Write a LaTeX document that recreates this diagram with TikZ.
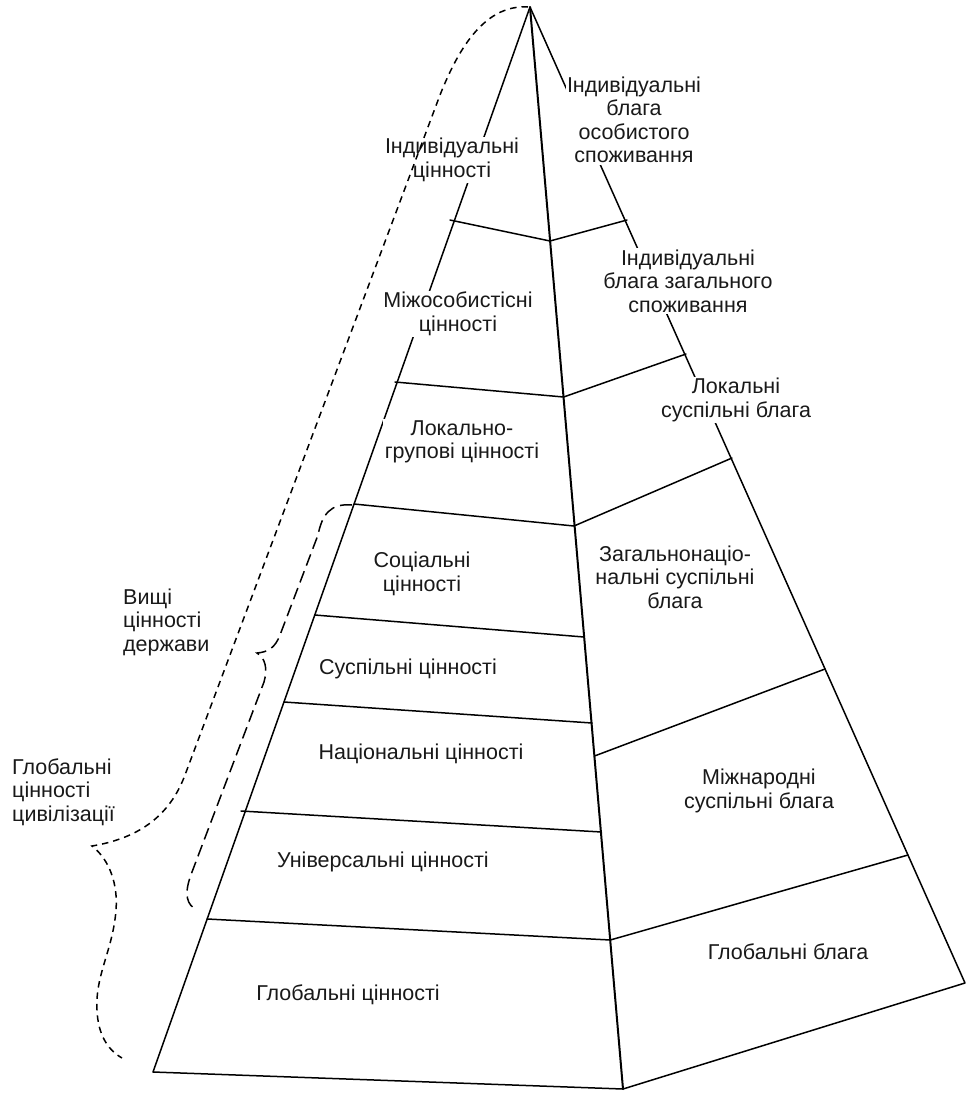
\documentclass[tikz,border=0pt]{standalone}
\usepackage{fontspec}
\setmainfont{Liberation Sans}
\begin{document}
\begin{tikzpicture}[x=1pt,y=-1pt,
  edge/.style={line width=1.5pt, line join=round, line cap=round},
  spine/.style={line width=2pt, line cap=round},
  lbl/.style={font=\fontsize{21.5}{23.5}\selectfont, align=center, fill=white, inner sep=1.5pt, text=black!90},
  sidelbl/.style={font=\fontsize{21.5}{23.5}\selectfont, align=left, anchor=west, inner sep=0pt, text=black!90},
  bracea/.style={line width=1.5pt, dash pattern=on 6.5pt off 5pt},
  braceb/.style={line width=1.5pt, dash pattern=on 12pt off 6pt},
]
\useasboundingbox (0,0) rectangle (966,1093);
% pyramid vertices
\coordinate (A) at (530,7);
\coordinate (BL) at (153,1072);
\coordinate (BM) at (623,1089);
\coordinate (BR) at (965,983);
% divider points: left edge
\coordinate (L1) at (450,220);
\coordinate (L2) at (395,382);
\coordinate (L3) at (354,504);
\coordinate (L4) at (314.8,615);
\coordinate (L5) at (284,702);
\coordinate (L6) at (241,811);
\coordinate (L7) at (207.2,919);
% spine
\coordinate (S1) at (550,241);
\coordinate (S2) at (563.6,397);
\coordinate (S3) at (574,526);
\coordinate (S4) at (584,637);
\coordinate (S5) at (592,723);
\coordinate (S6) at (601.5,832);
\coordinate (S7) at (610.3,940);
\coordinate (SD) at (594.5,756);
% right edge
\coordinate (R1) at (627,220);
\coordinate (R2) at (686,354);
\coordinate (R3) at (732,458);
\coordinate (R4) at (825,669);
\coordinate (R5) at (908,855);

% outline
\draw[edge] (A) -- (BL) -- (BM) -- (BR) -- cycle;
\draw[spine] (A) -- (BM);
% dividers
\draw[edge] (L1) -- (S1) -- (R1);
\draw[edge] (L2) -- (S2) -- (R2);
\draw[edge] (L3) -- (S3) -- (R3);
\draw[edge] (L4) -- (S4);
\draw[edge] (L5) -- (S5);
\draw[edge] (L6) -- (S6);
\draw[edge] (L7) -- (S7) -- (R5);
\draw[edge] (SD) -- (R4);

% labels (left column)
\node[lbl] (indc) at (452,160) {Індивідуальні\\цінності};
\node[lbl] (mizh) at (458,314) {Міжособистісні\\цінності};
\node[lbl] (lokg) at (462,442) {Локально-\\групові цінності};
\node[lbl] (soc) at (422,574) {Соціальні\\цінності};
\node[lbl] (susp) at (408,669) {Суспільні цінності};
\node[lbl] (nac) at (421,754) {Національні цінності};
\node[lbl] (univ) at (383,862) {Універсальні цінності};
\node[lbl] (globc) at (348,995) {Глобальні цінності};
% labels (right column)
\node[lbl] (indo) at (634,120) {Індивідуальні\\блага\\особистого\\споживання};
\node[lbl] (indz) at (688,281) {Індивідуальні\\блага загального\\споживання};
\node[lbl] (loks) at (736,400) {Локальні\\суспільні блага};
\node[lbl] (zag) at (675,577) {Загальнонаціо-\\нальні суспільні\\блага};
\node[lbl] (mizhn) at (759,791) {Міжнародні\\суспільні блага};
\node[lbl] (globb) at (788,952) {Глобальні блага};
% side labels
\node[sidelbl] (vyshchi) at (123,622) {Вищі\\цінності\\держави};
\node[sidelbl] (globciv) at (12,792) {Глобальні\\цінності\\цивілізації};

% braces
\coordinate (ta) at (528,7);
\coordinate (tipa) at (92,846);
\coordinate (enda) at (122,1058);
\draw[bracea] (ta) .. controls (482,4) and (456,55) .. (440,95)
  -- (185,775) .. controls (170,815) and (140,838) .. (tipa)
  .. controls (110,860) and (118,885) .. (116,910)
  .. controls (113,950) and (95,975) .. (97,1010)
  .. controls (98,1035) and (108,1050) .. (enda);
\coordinate (tb) at (352,505);
\coordinate (tipb) at (257,653);
\coordinate (endb) at (197,910);
\draw[braceb] (tb) .. controls (330,503) and (322,515) .. (318,535)
  -- (280,635) .. controls (275,648) and (268,652) .. (tipb)
  .. controls (265,658) and (268,668) .. (264,682)
  -- (192,872) .. controls (183,895) and (187,905) .. (endb);
\end{tikzpicture}
\end{document}
